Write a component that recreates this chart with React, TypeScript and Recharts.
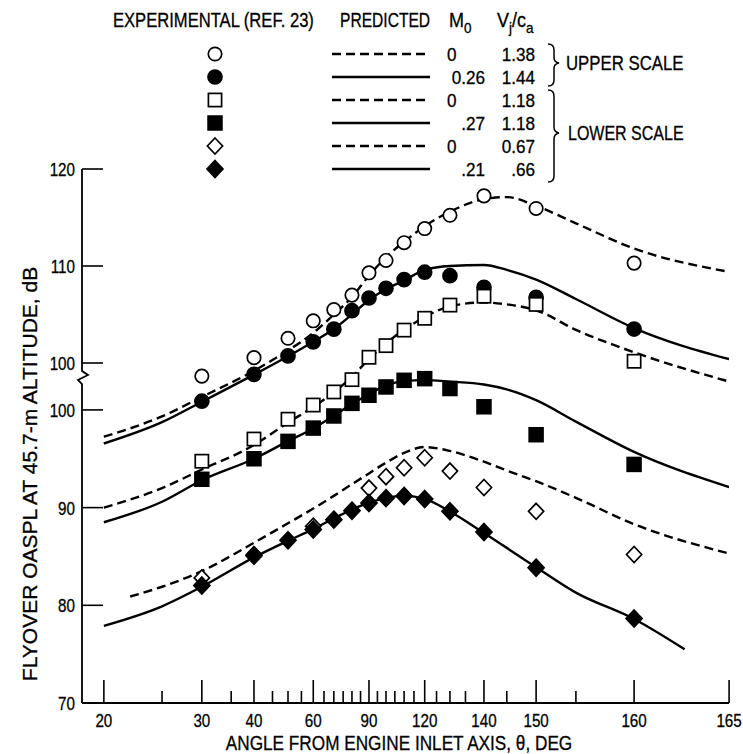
import React from 'react';
import { ComposedChart, Line, Scatter, XAxis, YAxis } from 'recharts';

const FONT = "'Liberation Sans Narrow', 'Liberation Sans', Arial, sans-serif";

// x axis: angle ticks (the axis is linear in -cot(theta))
const tickAngles = [20, 25, 30, 35, 40, 45, 50, 55, 60, 65, 70, 75, 80, 85, 90, 95, 100, 105, 110, 115, 120, 125, 130, 135, 140, 145, 150, 155, 160, 165];
const labelAngles = [20, 30, 40, 60, 90, 120, 140, 150, 160, 165];

// y axis tick labels
const lowerTicks = [70, 80, 90, 100];
const upperTicks = [100, 110, 120];

// experimental points
const expAngles = [30, 40, 50, 60, 70, 80, 90, 100, 110, 120, 130, 140, 150, 160];
const openCircleDb = [98.65, 100.55, 102.55, 104.35, 105.5, 107.0, 109.3, 110.57, 112.4, 113.86, 115.23, 117.23, 115.93, 110.3];
const filledCircleDb = [96.06, 98.83, 100.73, 102.18, 103.49, 105.39, 106.7, 107.7, 108.6, 109.36, 109.0, 107.8, 106.77, 103.5];
const openSquareDb = [94.75, 97.02, 99.05, 100.5, 101.84, 103.1, 105.39, 106.58, 108.17, 109.38, 110.73, 111.64, 110.8, 104.98];
const filledSquareDb = [92.9, 95.0, 96.78, 98.14, 99.38, 100.67, 101.5, 102.35, 103.03, 103.2, 102.19, 100.32, 97.46, 94.42];
const openDiamondAngles = [30, 40, 60, 90, 100, 110, 120, 130, 140, 150, 160];
const openDiamondDb = [82.8, 85.2, 88.1, 92.0, 93.17, 94.08, 95.1, 93.74, 92.06, 89.62, 85.2];
const filledDiamondDb = [82.03, 85.07, 86.65, 87.76, 88.77, 89.69, 90.47, 90.97, 91.2, 90.87, 89.62, 87.5, 83.85, 78.64];

// predicted curves
const curveAngles = [20, 25, 30, 40, 50, 60, 70, 80, 90, 100, 110, 120, 130, 140, 145, 150, 155, 160, 165];
const upperDashedDb = [92.4, 94.5, 96.5, 99.2, 101.3, 103.1, 105.0, 106.8, 109.0, 110.9, 112.5, 114.1, 115.6, 116.9, 117.1, 116.2, 114.4, 111.8, 109.4];
const upperSolidDb = [91.7, 93.9, 96.0, 98.8, 100.7, 102.2, 103.5, 105.0, 106.5, 107.6, 108.5, 109.6, 110.0, 110.1, 109.6, 108.6, 106.6, 103.6, 100.4];
const lowerDashedDb = [90.0, 92.0, 93.9, 96.4, 98.7, 100.3, 101.8, 103.4, 105.2, 106.8, 108.2, 109.5, 110.6, 111.0, 110.8, 110.2, 108.2, 105.9, 102.9];
const lowerSolidDb = [88.5, 90.6, 92.8, 95.0, 96.8, 98.1, 99.4, 100.6, 101.6, 102.5, 102.95, 103.05, 102.9, 102.6, 102.1, 101.0, 98.8, 95.7, 92.1];
const diamondDashedAngles = [22, 25, 30, 40, 50, 60, 70, 80, 90, 100, 110, 120, 130, 140, 145, 150, 155, 160, 165];
const diamondDashedDb = [80.9, 81.9, 83.5, 86.4, 88.4, 89.9, 91.2, 92.4, 93.5, 94.6, 95.6, 96.2, 95.8, 94.7, 93.8, 92.7, 91.0, 88.3, 85.3];
const diamondSolidAngles = [20, 25, 30, 40, 50, 60, 70, 80, 90, 100, 110, 120, 130, 140, 150, 155, 160, 163];
const diamondSolidDb = [77.9, 79.9, 81.9, 84.9, 86.6, 87.8, 88.9, 89.8, 90.5, 91.0, 91.2, 90.9, 89.6, 87.4, 83.9, 81.3, 78.6, 75.5];

// legend
const legendSymbols = ['openCircle', 'filledCircle', 'openSquare', 'filledSquare', 'openDiamond', 'filledDiamond'];
const m0Labels = ['0', '0.26', '0', '.27', '0', '.21'];
const vjLabels = ['1.38', '1.44', '1.18', '1.18', '0.67', '.66'];

// scale calibration
const X_MIN = -2.974;
const X_MAX = 3.731;
const LOWER_TOP = 124.66;
const UPPER_BOTTOM = 64.95;

const toU = (deg: number) => -1 / Math.tan((deg * Math.PI) / 180);
const toDeg = (u: number) => Math.round((Math.atan2(1, -u) * 180) / Math.PI);
const upperToLower = (v: number) =>
  70 + ((v - UPPER_BOTTOM) / (120 - UPPER_BOTTOM)) * (LOWER_TOP - 70);

const pts = (angles: number[], dbs: number[]) => angles.map((a, i) => ({ u: toU(a), db: dbs[i] }));

const yTickValues = [...lowerTicks, ...upperTicks.map(upperToLower)];
const yTickLabels = [...lowerTicks, ...upperTicks];

function Mark({ kind, x, y }: { kind: string; x: number; y: number }) {
  const filled = kind.startsWith('filled');
  const fill = filled ? '#000' : '#fff';
  if (kind.endsWith('Circle')) {
    return <circle cx={x} cy={y} r={filled ? 7 : 6.7} fill={fill} stroke="#000" strokeWidth={1.7} />;
  }
  if (kind.endsWith('Square')) {
    const h = filled ? 6.9 : 6.6;
    return <rect x={x - h} y={y - h} width={2 * h} height={2 * h} fill={fill} stroke="#000" strokeWidth={1.7} />;
  }
  const w = filled ? 8 : 7.6;
  const hh = filled ? 8.5 : 8;
  return (
    <polygon
      points={`${x},${y - hh} ${x + w},${y} ${x},${y + hh} ${x - w},${y}`}
      fill={fill}
      stroke="#000"
      strokeWidth={1.7}
    />
  );
}

const shapeOf = (kind: string) => (props: any) => {
  const { cx, cy } = props;
  if (cx == null || cy == null) return <g />;
  return <Mark kind={kind} x={cx} y={cy} />;
};

// condensed lettering: horizontally squeezed text
function CText({
  x,
  y,
  sx = 0.82,
  size = 19,
  anchor = 'start',
  rotate = false,
  children,
}: {
  x: number;
  y: number;
  sx?: number;
  size?: number;
  anchor?: 'start' | 'middle' | 'end';
  rotate?: boolean;
  children: React.ReactNode;
}) {
  return (
    <text
      transform={`translate(${x} ${y})${rotate ? ' rotate(-90)' : ''} scale(${sx} 1)`}
      fontFamily={FONT}
      fontSize={size}
      textAnchor={anchor}
      fill="#000"
      stroke="#000"
      strokeWidth={0.3}
    >
      {children}
    </text>
  );
}

const XTick = (props: any) => {
  const { x, y, payload } = props;
  const deg = toDeg(payload.value);
  const major = labelAngles.includes(deg);
  return (
    <g>
      <line x1={x} y1={y} x2={x} y2={y - (major ? 23 : 12)} stroke="#000" strokeWidth={1.6} />
      {major && (
        <CText x={x} y={y + 24} sx={0.8} anchor="middle">
          {deg}
        </CText>
      )}
    </g>
  );
};

const YTick = (props: any) => {
  const { x, y, payload } = props;
  let idx = 0;
  yTickValues.forEach((v, i) => {
    if (Math.abs(v - payload.value) < Math.abs(yTickValues[idx] - payload.value)) idx = i;
  });
  return (
    <g>
      <line x1={x} y1={y} x2={x + 21} y2={y} stroke="#000" strokeWidth={1.6} />
      <CText x={x - 7} y={y + 7} sx={0.8} anchor="end">
        {yTickLabels[idx]}
      </CText>
    </g>
  );
};

const lineProps = {
  type: 'monotone' as const,
  dataKey: 'db',
  stroke: '#000',
  strokeWidth: 2.4,
  dot: false,
  activeDot: false,
  isAnimationActive: false,
};

const legendRowY = [54, 77, 100, 123, 146, 169];

export default function App() {
  return (
    <div style={{ position: 'relative', width: 743, height: 754, background: '#fff' }}>
      <style>{'body{margin:0}'}</style>
      <ComposedChart width={743} height={754} margin={{ top: 169, right: 14, bottom: 0, left: 0 }}>
        <XAxis
          type="number"
          dataKey="u"
          domain={[X_MIN, X_MAX]}
          allowDataOverflow
          ticks={tickAngles.map(toU)}
          interval={0}
          tick={(p: any) => <XTick {...p} />}
          tickLine={false}
          tickSize={0}
          tickMargin={0}
          height={51}
          axisLine={{ stroke: '#000', strokeWidth: 1.8 }}
        />
        <YAxis
          yAxisId="lower"
          type="number"
          dataKey="db"
          domain={[70, LOWER_TOP]}
          allowDataOverflow
          ticks={yTickValues}
          interval={0}
          tick={(p: any) => <YTick {...p} />}
          tickLine={false}
          tickSize={0}
          tickMargin={0}
          width={82}
          axisLine={false}
        />
        <YAxis yAxisId="upper" type="number" dataKey="db" domain={[UPPER_BOTTOM, 120]} allowDataOverflow hide />

        <Line {...lineProps} yAxisId="upper" data={pts(curveAngles, upperDashedDb)} strokeDasharray="9 5" />
        <Line {...lineProps} yAxisId="upper" data={pts(curveAngles, upperSolidDb)} />
        <Line {...lineProps} yAxisId="lower" data={pts(curveAngles, lowerDashedDb)} strokeDasharray="9 5" />
        <Line {...lineProps} yAxisId="lower" data={pts(curveAngles, lowerSolidDb)} />
        <Line {...lineProps} yAxisId="lower" data={pts(diamondDashedAngles, diamondDashedDb)} strokeDasharray="9 5" />
        <Line {...lineProps} yAxisId="lower" data={pts(diamondSolidAngles, diamondSolidDb)} />

        <Scatter yAxisId="upper" data={pts(expAngles, openCircleDb)} dataKey="db" shape={shapeOf('openCircle')} isAnimationActive={false} />
        <Scatter yAxisId="upper" data={pts(expAngles, filledCircleDb)} dataKey="db" shape={shapeOf('filledCircle')} isAnimationActive={false} />
        <Scatter yAxisId="lower" data={pts(expAngles, openSquareDb)} dataKey="db" shape={shapeOf('openSquare')} isAnimationActive={false} />
        <Scatter yAxisId="lower" data={pts(expAngles, filledSquareDb)} dataKey="db" shape={shapeOf('filledSquare')} isAnimationActive={false} />
        <Scatter yAxisId="lower" data={pts(openDiamondAngles, openDiamondDb)} dataKey="db" shape={shapeOf('openDiamond')} isAnimationActive={false} />
        <Scatter yAxisId="lower" data={pts(expAngles, filledDiamondDb)} dataKey="db" shape={shapeOf('filledDiamond')} isAnimationActive={false} />
      </ComposedChart>

      <svg
        width={743}
        height={754}
        style={{ position: 'absolute', left: 0, top: 0, pointerEvents: 'none' }}
      >
        {/* broken y axis */}
        <path d="M82,169 V371 L88,375 L78,380 L82,384 V703" fill="none" stroke="#000" strokeWidth={1.8} />

        {/* axis titles */}
        <CText x={399} y={750} size={20} sx={0.86} anchor="middle">
          ANGLE FROM ENGINE INLET AXIS, θ, DEG
        </CText>
        <CText x={37} y={474} size={21} sx={1.0} anchor="middle" rotate>
          FLYOVER OASPL AT 45.7-m ALTITUDE, dB
        </CText>

        {/* legend header */}
        <CText x={113} y={27} size={20} sx={0.83}>
          EXPERIMENTAL (REF. 23)
        </CText>
        <CText x={340} y={27} size={20} sx={0.78}>
          PREDICTED
        </CText>
        <CText x={449} y={27} size={20} sx={0.9}>
          M<tspan fontSize={15} dy={6}>0</tspan>
        </CText>
        <CText x={497} y={27} size={20} sx={0.9}>
          V<tspan fontSize={15} dy={6}>j</tspan>
          <tspan dy={-6}>/c</tspan>
          <tspan fontSize={15} dy={6}>a</tspan>
        </CText>

        {legendSymbols.map((kind, i) => (
          <g key={kind}>
            <Mark kind={kind} x={215} y={legendRowY[i]} />
            <line
              x1={332}
              y1={legendRowY[i]}
              x2={430}
              y2={legendRowY[i]}
              stroke="#000"
              strokeWidth={2.4}
              strokeDasharray={i % 2 === 0 ? '9 5' : undefined}
            />
            <CText
              x={m0Labels[i] === '0' ? 447 : 485}
              y={legendRowY[i] + 7}
              sx={0.9}
              anchor={m0Labels[i] === '0' ? 'start' : 'end'}
            >
              {m0Labels[i]}
            </CText>
            <CText x={535} y={legendRowY[i] + 7} sx={0.9} anchor="end">
              {vjLabels[i]}
            </CText>
          </g>
        ))}

        {/* braces */}
        <path
          d="M548,44 Q554,44 554,50 V58 Q554,62 559,63 Q554,64 554,68 V80 Q554,86 548,86"
          fill="none"
          stroke="#000"
          strokeWidth={1.5}
        />
        <path
          d="M548,90 Q554,90 554,96 V127 Q554,132 559,133 Q554,134 554,139 V176 Q554,182 548,182"
          fill="none"
          stroke="#000"
          strokeWidth={1.5}
        />
        <CText x={566} y={70} size={20} sx={0.84}>
          UPPER SCALE
        </CText>
        <CText x={568} y={140} size={20} sx={0.8}>
          LOWER SCALE
        </CText>
      </svg>
    </div>
  );
}
